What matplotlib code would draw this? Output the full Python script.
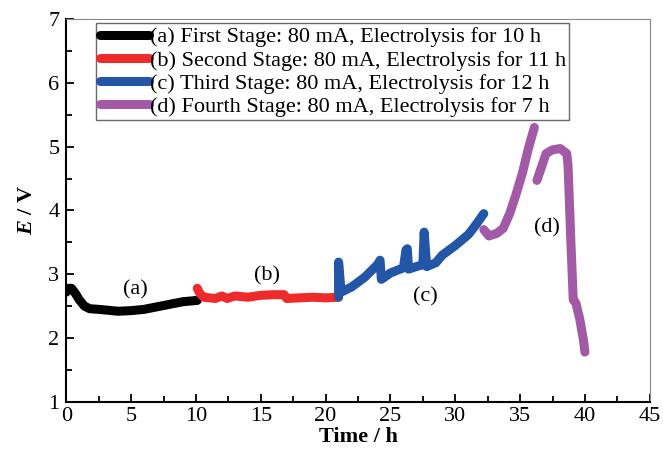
"""Potential vs time for four electrolysis stages."""
import matplotlib
matplotlib.use("Agg")
import matplotlib.pyplot as plt
from matplotlib.ticker import MultipleLocator

# stage (a) first stage
t_a = [0.0, 0.2, 0.4, 0.7, 1.0, 1.4, 1.8, 2.5, 3.0, 4.0, 5.0, 6.0, 7.0, 8.0, 9.0, 10.1]
e_a = [2.72, 2.78, 2.78, 2.70, 2.60, 2.50, 2.46, 2.45, 2.44, 2.42, 2.43, 2.45, 2.49, 2.53, 2.57, 2.59]

# stage (b) second stage
t_b = [10.1, 10.3, 10.6, 11.5, 12.0, 12.4, 13.0, 14.0, 15.0, 16.0, 16.8, 17.0, 18.0, 19.0, 20.0, 21.0]
e_b = [2.78, 2.70, 2.64, 2.62, 2.66, 2.62, 2.66, 2.64, 2.67, 2.68, 2.68, 2.62, 2.63, 2.64, 2.63, 2.64]

# stage (c) third stage
t_c = [21.0, 21.0, 21.2, 22.0, 23.0, 24.0, 24.2, 24.3, 25.0, 26.0, 26.2, 26.3, 26.4, 27.0, 27.5,
       27.6, 27.8, 28.5, 29.0, 30.0, 31.0, 31.5, 32.2]
e_c = [2.64, 3.19, 2.72, 2.80, 2.95, 3.15, 3.22, 2.92, 3.02, 3.10, 3.38, 3.40, 3.08, 3.12, 3.15,
       3.66, 3.12, 3.18, 3.30, 3.45, 3.62, 3.75, 3.95]

# stage (d) fourth stage (None = gap in the record)
t_d = [32.2, 32.6, 33.2, 33.7, 34.2, 34.7, 35.2, 35.6, 36.1, None, 36.3, 36.6, 37.0, 37.5, 38.1, 38.6,
       38.7, 38.9, 39.1, 39.3, 39.6, 39.9, 40.0]
e_d = [3.70, 3.60, 3.64, 3.72, 3.95, 4.26, 4.60, 4.94, 5.30, None, 4.47, 4.65, 4.89, 4.95, 4.97, 4.89,
       4.70, 3.60, 2.60, 2.55, 2.30, 1.95, 1.78]

labels = [
    "(a) First Stage: 80 mA, Electrolysis for 10 h",
    "(b) Second Stage: 80 mA, Electrolysis for 11 h",
    "(c) Third Stage: 80 mA, Electrolysis for 12 h",
    "(d) Fourth Stage: 80 mA, Electrolysis for 7 h",
]
colors = ["#000000", "#ee2a2a", "#2356a6", "#a25aa6"]

plt.rcParams["font.family"] = ["Liberation Serif", "DejaVu Serif"]
plt.rcParams["mathtext.fontset"] = "custom"
plt.rcParams["mathtext.it"] = "Liberation Serif:italic:bold"
plt.rcParams["mathtext.rm"] = "Liberation Serif:bold"

fig = plt.figure(figsize=(6.63, 4.63), dpi=100)
ax = fig.add_axes([0.100, 0.132, 0.880, 0.827])

lw = 6.5
for (t, e), lab, c in zip([(t_a, e_a), (t_b, e_b), (t_c, e_c), (t_d, e_d)], labels, colors):
    tt = [x if x is not None else float("nan") for x in t]
    ee = [y if y is not None else float("nan") for y in e]
    ax.plot(tt, ee, color=c, lw=lw, label=lab, solid_capstyle="round", solid_joinstyle="round")

ax.text(5.3, 2.75, "(a)", fontsize=16, ha="center", va="center")
ax.text(15.5, 2.97, "(b)", fontsize=16, ha="center", va="center")
ax.text(27.7, 2.64, "(c)", fontsize=16, ha="center", va="center")
ax.text(37.1, 3.72, "(d)", fontsize=16, ha="center", va="center")

ax.set_xlim(0, 45)
ax.set_ylim(1, 7)
ax.xaxis.set_major_locator(MultipleLocator(5))
ax.xaxis.set_minor_locator(MultipleLocator(2.5))
ax.yaxis.set_major_locator(MultipleLocator(1))
ax.yaxis.set_minor_locator(MultipleLocator(0.5))
ax.tick_params(which="both", direction="in", labelsize=16, width=1.3)
ax.tick_params(which="major", length=6)
ax.tick_params(which="minor", length=4)
ax.tick_params(axis="y", pad=5)

for side in ["left", "bottom"]:
    ax.spines[side].set_linewidth(1.5)
for side in ["top", "right"]:
    ax.spines[side].set_linewidth(0.8)
    ax.spines[side].set_color("#888888")

ax.set_xlabel("Time / h", fontsize=16, fontweight="bold", labelpad=1)
ax.set_ylabel("$E$ / V", fontsize=16, fontweight="bold", labelpad=8)

ax.legend(loc="upper left", bbox_to_anchor=(0.044, 1.0), fontsize=16, frameon=True,
          fancybox=False, edgecolor="#444444", handlelength=2.2, handletextpad=0.05,
          borderpad=0.15, labelspacing=0.12, borderaxespad=0.2)

fig.savefig("out.png", dpi=100)
